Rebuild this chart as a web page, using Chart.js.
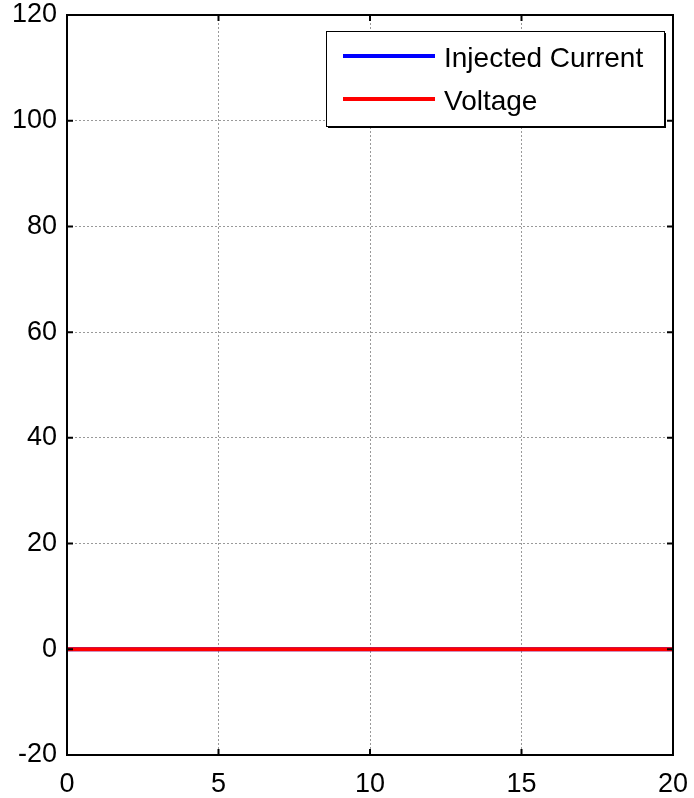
<!DOCTYPE html>
<html>
<head>
<meta charset="utf-8">
<script src="https://cdn.jsdelivr.net/npm/chart.js@4.4.0/dist/chart.umd.min.js"></script>
<style>
	html, body { margin: 0; padding: 0; background: #fff; }
	#wrap { width: 694px; height: 798px; }
</style>
</head>
<body>
<div id="wrap"><canvas id="myChart" width="694" height="798"></canvas></div>
<script>
// data
const timeValues = [0, 5, 10, 15, 20];
const currentValues = [0, 0, 0, 0, 0];
const voltageValues = [0, 0, 0, 0, 0];
const seriesLabels = ['Injected Current', 'Voltage'];
const xTicks = [0, 5, 10, 15, 20];
const yTicks = [-20, 0, 20, 40, 60, 80, 100, 120];

const FONT = 'Arial, "Liberation Sans", sans-serif';

function points(ys) {
	return timeValues.map((t, i) => ({ x: t, y: ys[i] }));
}

// box, inward ticks and the legend drawn in MATLAB style
const matlabFrame = {
	id: 'matlabFrame',
	afterDraw(chart) {
		const ctx = chart.ctx;
		const a = chart.chartArea;
		const xs = chart.scales.x, ys = chart.scales.y;
		ctx.save();
		ctx.strokeStyle = '#000';
		ctx.lineWidth = 2;
		ctx.strokeRect(a.left, a.top, a.right - a.left, a.bottom - a.top);

		// inward tick marks
		const tl = 6;
		ctx.beginPath();
		xTicks.forEach(v => {
			const px = xs.getPixelForValue(v);
			ctx.moveTo(px, a.bottom); ctx.lineTo(px, a.bottom - tl);
			ctx.moveTo(px, a.top); ctx.lineTo(px, a.top + tl);
		});
		yTicks.forEach(v => {
			const py = ys.getPixelForValue(v);
			ctx.moveTo(a.left, py); ctx.lineTo(a.left + tl, py);
			ctx.moveTo(a.right, py); ctx.lineTo(a.right - tl, py);
		});
		ctx.stroke();

		// legend
		const bx = 326, by = 31, bw = 338, bh = 95;
		ctx.fillStyle = '#fff';
		ctx.fillRect(bx, by, bw, bh);
		ctx.lineWidth = 1;
		ctx.strokeStyle = '#000';
		ctx.strokeRect(bx + 0.5, by + 0.5, bw, bh);
		ctx.lineWidth = 2;
		ctx.beginPath();
		ctx.moveTo(bx + bw + 1, by + 2); ctx.lineTo(bx + bw + 1, by + bh + 1);
		ctx.lineTo(bx + 2, by + bh + 1);
		ctx.stroke();

		ctx.font = '28px ' + FONT;
		ctx.textBaseline = 'middle';
		ctx.fillStyle = '#000';
		chart.data.datasets.forEach((ds, i) => {
			const ly = by + 25 + i * 43;
			ctx.strokeStyle = ds.borderColor;
			ctx.lineWidth = 4;
			ctx.beginPath();
			ctx.moveTo(343, ly); ctx.lineTo(435, ly);
			ctx.stroke();
			ctx.fillText(ds.label, 444, ly + 3);
		});
		ctx.restore();
	}
};

const ctx = document.getElementById('myChart').getContext('2d');
window.myChart = new Chart(ctx, {
	type: 'line',
	data: {
		datasets: [
			{
				label: seriesLabels[0],
				data: points(currentValues),
				borderColor: '#0000ff',
				borderWidth: 4,
				pointRadius: 0,
				order: 2
			},
			{
				label: seriesLabels[1],
				data: points(voltageValues),
				borderColor: '#ff0000',
				borderWidth: 4,
				pointRadius: 0,
				order: 1
			}
		]
	},
	options: {
		responsive: false,
		animation: false,
		layout: { padding: { left: 0, right: 21, top: 15, bottom: 0 } },
		plugins: { legend: { display: false }, tooltip: { enabled: false } },
		scales: {
			x: {
				type: 'linear',
				min: 0,
				max: 20,
				afterBuildTicks: s => { s.ticks = xTicks.map(v => ({ value: v })); },
				afterFit: s => { s.height = 43; s.paddingLeft = 0; s.paddingRight = 0; },
				ticks: { color: '#000', font: { family: FONT, size: 27 }, padding: 13, maxRotation: 0 },
				grid: { color: '#999', lineWidth: 1, drawTicks: false, tickLength: 0 },
				border: { display: false, dash: [2, 2] }
			},
			y: {
				type: 'linear',
				min: -20,
				max: 120,
				afterBuildTicks: s => { s.ticks = yTicks.map(v => ({ value: v })); },
				afterFit: s => { s.width = 67; s.paddingTop = 0; s.paddingBottom = 0; },
				ticks: { color: '#000', font: { family: FONT, size: 27 }, padding: 10 },
				grid: { color: '#999', lineWidth: 1, drawTicks: false, tickLength: 0 },
				border: { display: false, dash: [2, 2] }
			}
		}
	},
	plugins: [matlabFrame]
});
</script>
</body>
</html>
